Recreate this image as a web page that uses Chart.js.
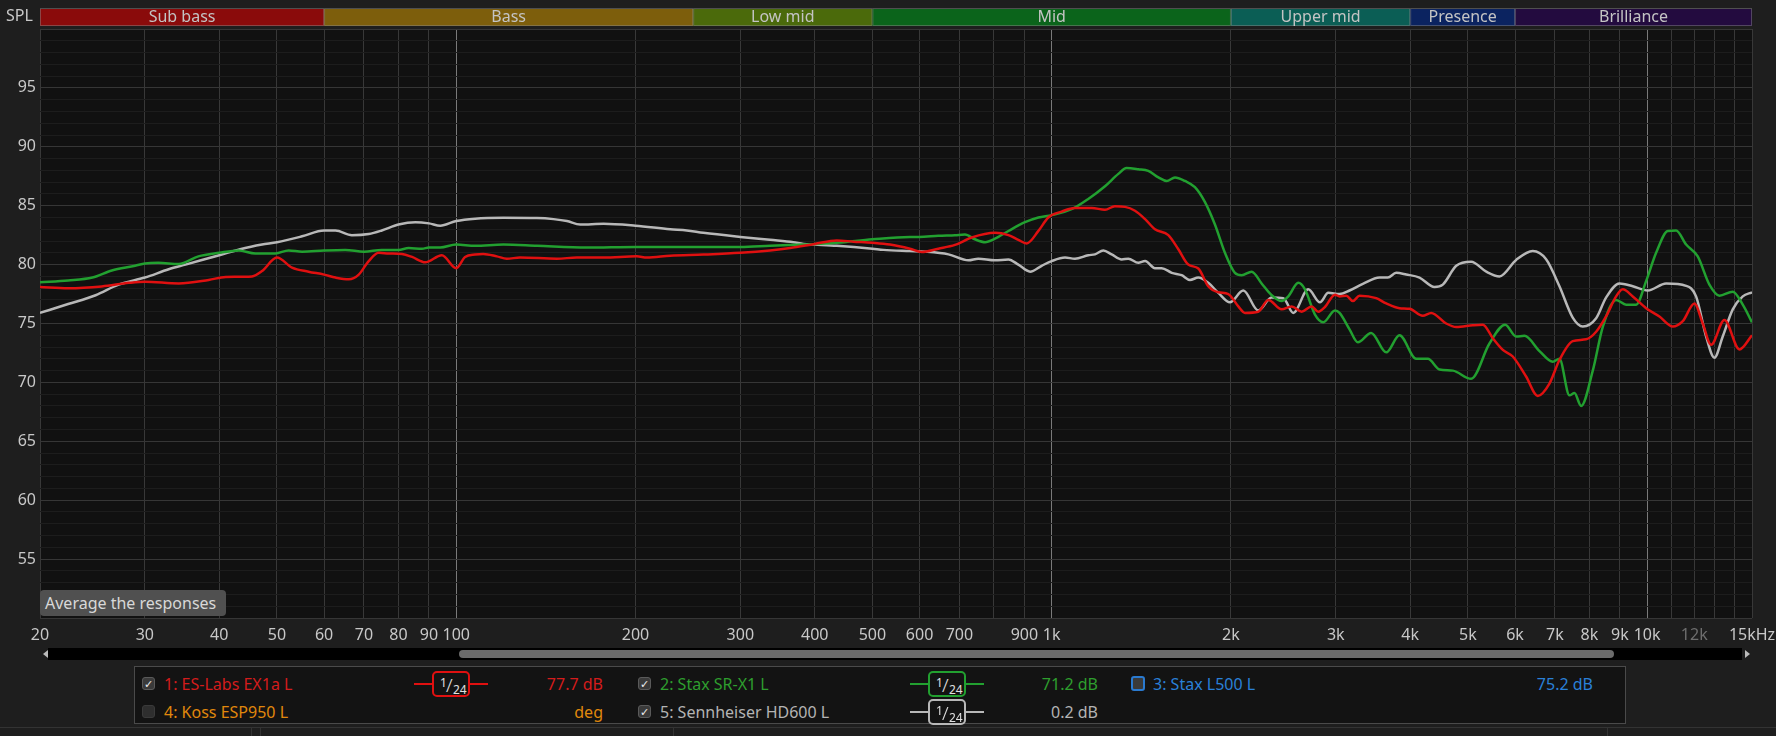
<!DOCTYPE html>
<html>
<head>
<meta charset="utf-8">
<script src="https://cdn.jsdelivr.net/npm/chart.js@4.4.0/dist/chart.umd.min.js"></script>
<style>
  html, body { margin: 0; padding: 0; background: #1e1e1e; }
  #wrap { position: relative; width: 1776px; height: 736px; overflow: hidden; font-family: 'Noto Sans', sans-serif; color: #c8c8c8; }
  #chart { position: absolute; left: 0; top: 0; }
  .abs { position: absolute; white-space: nowrap; }
  #spl { left: 6px; top: 4px; font-size: 16px; }
  #avg { left: 40px; top: 590px; width: 186px; height: 26px; background: #505050; border-radius: 4px; font-size: 16px; line-height: 26px; color: #d8d8d8; box-sizing: border-box; padding-left: 5px; }
  #track { left: 48px; top: 648px; width: 1694px; height: 12px; background: #000; }
  #thumb { left: 459px; top: 650px; width: 1155px; height: 8px; background: #6b6b6b; border-radius: 4px; }
  .arrow { width: 0; height: 0; border-top: 4px solid transparent; border-bottom: 4px solid transparent; top: 650px; }
  #legend { left: 134px; top: 666px; width: 1492px; height: 58px; border: 1px solid #4a4a4a; background: #131313; box-sizing: border-box; }
  .txt { font-size: 16px; line-height: 20px; }
  .box { width: 13px; height: 13px; border-radius: 3px; background: #3a3a3a; border: 1px solid #5a5a5a; box-sizing: border-box; color: #eee; font-size: 11px; line-height: 12px; text-align: center; }
  .sym { width: 74px; height: 26px; }
  .sym .ln { position: absolute; left: 0; right: 0; top: 12px; height: 2px; }
  .sym .bx { position: absolute; left: 18px; top: 0; width: 38px; height: 26px; box-sizing: border-box; border: 2px solid; border-radius: 5px; background: #131313; color: #e0e0e0; font-size: 12px; }
  .sym .n1 { position: absolute; left: 6px; top: 1px; font-size: 12px; }
  .sym .sl { position: absolute; left: 12px; top: -1px; font-size: 19px; font-weight: 300; }
  .sym .n2 { position: absolute; left: 19px; top: 8px; font-size: 12px; }
  #status { left: 0; top: 727px; width: 1776px; height: 1px; background: #333; }
  .sep { top: 727px; width: 1px; height: 9px; background: #333; }
</style>
</head>
<body>
<div id="wrap">
  <canvas id="chart" width="1776" height="736"></canvas>
  <div id="spl" class="abs">SPL</div>
  <div id="avg" class="abs">Average the responses</div>
  <div id="track" class="abs"></div>
  <div id="thumb" class="abs"></div>
  <div class="abs arrow" style="left:43px;border-right:5px solid #bbb;"></div>
  <div class="abs arrow" style="left:1745px;border-left:5px solid #bbb;"></div>
  <div id="legend" class="abs"></div>
  <div id="status" class="abs"></div>
  <div class="abs sep" style="left:251px"></div>
  <div class="abs sep" style="left:260px"></div>
  <div class="abs sep" style="left:673px"></div>
  <div class="abs sep" style="left:1607px"></div>
</div>
<script>
// frequency bands across the top
var bandNames = ['Sub bass', 'Bass', 'Low mid', 'Mid', 'Upper mid', 'Presence', 'Brilliance'];
var bandEdges = [20, 60, 250, 500, 2000, 4000, 6000, 20000];
var bandColors = ['#8a0b0b', '#7d5e0c', '#4b6a0b', '#0b641b', '#0b5e55', '#0b2360', '#230b3f'];

// x axis ticks
var xTickValues = [20, 30, 40, 50, 60, 70, 80, 90, 100, 200, 300, 400, 500, 600, 700, 800, 900,
    1000, 2000, 3000, 4000, 5000, 6000, 7000, 8000, 9000, 10000, 11000, 12000, 13000, 14000, 15000];
var xTickLabels = ['20', '30', '40', '50', '60', '70', '80', '90', '100', '200', '300', '400', '500', '600', '700', '', '900',
    '1k', '2k', '3k', '4k', '5k', '6k', '7k', '8k', '9k', '10k', '', '12k', '', '', '15kHz'];

// 1: ES-Labs EX1a L
var redFreq = [20, 22.3, 25.4, 28.2, 30, 34.2, 38.4, 41, 45.4, 47.2, 50, 53, 56.5, 60, 62.7, 66, 68.6, 71.3, 74.1, 77,
    81.1, 84.3, 88.7, 94.6, 100, 103.5, 107.6, 111, 117, 121.6, 128, 147.6, 159.4, 176.8, 201, 209, 228.7, 260, 300,
    336.6, 363.7, 400, 435.6, 464.5, 500, 535, 578, 605, 645, 688, 734, 803, 846, 879, 908, 950, 987, 1039, 1094,
    1168, 1229, 1277, 1328, 1380, 1435, 1491, 1570, 1632, 1696, 1763, 1832, 1905, 1980, 2058, 2112, 2223, 2311,
    2433, 2529, 2629, 2732, 2804, 2877, 2991, 3044, 3124, 3205, 3288, 3507, 3646, 3838, 3990, 4199, 4338, 4597,
    4780, 5096, 5297, 5506, 5723, 5948, 6262, 6552, 6854, 7124, 7499, 7898, 8210, 8531, 8869, 9100, 9459, 9960,
    10486, 11042, 11478, 12006, 12399, 12805, 13482, 14290, 15000];
var redDb = [78.1, 78.0, 78.15, 78.45, 78.55, 78.4, 78.7, 78.95, 79.0, 79.45, 80.6, 79.75, 79.4, 79.15, 78.9, 78.75, 79.15, 80.3, 81.0, 80.95,
    80.9, 80.65, 80.2, 80.8, 79.7, 80.65, 80.85, 80.9, 80.7, 80.5, 80.6, 80.5, 80.6, 80.6, 80.7, 80.6, 80.75, 80.85, 81.0,
    81.2, 81.4, 81.75, 82.05, 81.95, 81.85, 81.7, 81.35, 81.07, 81.35, 81.67, 82.3, 82.7, 82.5, 82.1, 81.8, 82.86, 84.0, 84.5, 84.8,
    84.8, 84.66, 84.95, 84.9, 84.57, 83.86, 83.0, 82.5, 81.3, 80.0, 79.67, 78.16, 77.65, 77.5, 76.45, 75.9, 76.0, 77.0,
    76.2, 76.45, 76.0, 76.45, 76.0, 76.4, 77.45, 77.3, 77.36, 76.9, 77.36, 77.15, 76.7, 76.3, 76.25, 75.65, 75.9, 75.0,
    74.7, 74.85, 74.9, 73.75, 72.76, 72.2, 70.5, 68.85, 69.9, 71.9, 73.5, 73.66, 74.3, 75.6, 77.3, 77.9, 77.3, 76.3,
    75.6, 74.74, 75.2, 76.7, 75.0, 73.2, 75.3, 72.8, 74.0];

// 2: Stax SR-X1 L
var greenFreq = [20, 22.3, 24.5, 26.4, 28.9, 30, 31.6, 34.2, 36.9, 40, 43.1, 46, 49.7, 52.3, 55.1, 60, 65.1, 70, 75, 80,
    83.2, 87.6, 90, 94, 100, 107.6, 120, 136.6, 165.7, 200, 300, 336.6, 383, 435.6, 500, 578, 599, 645, 688, 715, 743,
    773, 803, 846, 902, 950, 1000, 1080, 1152, 1229, 1294, 1336, 1398, 1453, 1511, 1560, 1611, 1674, 1740, 1809, 1880,
    1954, 2031, 2085, 2167, 2252, 2341, 2433, 2497, 2595, 2663, 2768, 2858, 2991, 3044, 3164, 3267, 3440, 3646, 3838,
    4094, 4283, 4481, 4717, 5063, 5435, 5774, 6026, 6222, 6595, 6943, 7124, 7405, 7550, 7747, 8104, 8422, 8869, 9219,
    9582, 9960, 10353, 10832, 11186, 11627, 12161, 12722, 13224, 13924, 14473, 15000];
var greenDb = [78.5, 78.65, 78.9, 79.5, 79.9, 80.1, 80.15, 80.05, 80.7, 81.0, 81.2, 80.95, 80.95, 81.2, 81.1, 81.2, 81.25, 81.1, 81.25, 81.25,
    81.4, 81.35, 81.45, 81.45, 81.7, 81.6, 81.7, 81.6, 81.45, 81.5, 81.5, 81.6, 81.7, 81.85, 82.15, 82.35, 82.35, 82.45, 82.5, 82.55, 82.15,
    81.9, 82.2, 82.85, 83.6, 84.0, 84.2, 84.7, 85.57, 86.65, 87.7, 88.2, 88.1, 87.96, 87.4, 87.1, 87.4, 87.1, 86.57, 85.3, 83.4,
    81.0, 79.3, 79.1, 79.4, 78.4, 77.4, 76.9, 77.3, 78.45, 77.9, 75.75, 75.1, 76.1, 75.9, 74.5, 73.4, 74.2, 72.55, 74.0,
    72.0, 72.0, 71.1, 71.0, 70.3, 73.3, 74.9, 73.9, 73.95, 72.66, 71.75, 72.0, 68.9, 69.1, 68.0, 71.0, 74.7, 77.0, 76.6,
    76.6, 78.6, 81.0, 82.86, 82.9, 81.7, 80.7, 78.3, 77.36, 77.7, 76.6, 75.1];

// 5: Sennheiser HD600 L
var greyFreq = [20, 22.3, 24.8, 27.1, 30, 32.9, 35.1, 40, 43.7, 47.2, 50, 55.1, 60, 62.7, 66.8, 71.3, 75, 80, 85.4, 90,
    94, 100, 107.6, 120, 136.6, 145.7, 153.4, 161.5, 176.8, 200, 228.7, 243.9, 260, 300, 336.6, 368.4, 383, 400, 435.6,
    500, 521.7, 578, 613, 671, 725, 753, 803, 846, 879, 920, 962, 1000, 1053, 1094, 1152, 1182, 1221, 1261, 1311, 1345,
    1398, 1435, 1491, 1530, 1591, 1653, 1707, 1763, 1832, 1905, 1992, 2098, 2223, 2341, 2449, 2545, 2697, 2822, 2914,
    3044, 3164, 3331, 3553, 3669, 3789, 3939, 4147, 4394, 4538, 4780, 5063, 5368, 5650, 6026, 6426, 6766, 7124, 7499,
    7797, 8210, 8531, 8984, 9459, 10024, 10762, 11627, 12083, 12560, 12971, 13395, 13924, 14473, 15000];
var greyDb = [75.9, 76.65, 77.4, 78.3, 78.9, 79.6, 80.0, 80.8, 81.35, 81.7, 81.9, 82.4, 82.9, 82.9, 82.5, 82.6, 82.9, 83.4, 83.6, 83.5,
    83.3, 83.7, 83.9, 83.97, 83.95, 83.86, 83.7, 83.4, 83.46, 83.3, 83.0, 82.9, 82.7, 82.35, 82.1, 81.9, 81.75, 81.7, 81.6,
    81.35, 81.25, 81.15, 81.1, 80.87, 80.36, 80.5, 80.36, 80.44, 80.0, 79.4, 79.9, 80.3, 80.6, 80.5, 80.8, 80.87, 81.2, 80.87, 80.44, 80.5,
    80.15, 80.3, 79.7, 79.7, 79.3, 79.1, 78.7, 78.9, 78.45, 77.6, 76.8, 77.8, 76.1, 77.2, 77.15, 75.9, 77.9, 76.8, 77.6,
    77.5, 77.8, 78.36, 78.9, 78.9, 79.3, 79.16, 78.9, 78.1, 78.3, 79.9, 80.24, 79.4, 79.0, 80.4, 81.15, 80.45, 78.16, 75.5,
    74.74, 75.45, 77.2, 78.4, 78.16, 77.8, 78.4, 78.2, 77.3, 73.9, 72.1, 73.9, 76.2, 77.3, 77.65];

// legend entries
var legendNames = ['1: ES-Labs EX1a L', '2: Stax SR-X1 L', '3: Stax L500 L', '4: Koss ESP950 L', '5: Sennheiser HD600 L'];
var legendValues = ['77.7 dB', '71.2 dB', '75.2 dB', 'deg', '0.2 dB'];
var legendColors = ['#d41c1c', '#2e9e2e', '#2a80d8', '#e0880c', '#b4b4b4'];

function points(freq, db) {
    var ret = [];
    for (var i = 0; i < freq.length; i++) {
        ret.push({x: freq[i], y: db[i]});
    }
    return ret;
}

function buildLegend() {
    var wrap = document.getElementById('wrap');
    // [x of checkbox, y center, x of value right edge, symbol x or null, checkbox style]
    var spots = [
        [142, 684, 603, 414, 'on'],
        [638, 684, 1098, 910, 'on'],
        [1131, 684, 1593, null, 'blue'],
        [142, 712, 603, null, 'off'],
        [638, 712, 1098, 910, 'on']
    ];
    var symColors = ['#e01010', '#22a030', null, null, '#b8b8b8'];
    for (var i = 0; i < spots.length; i++) {
        var s = spots[i];
        var box = document.createElement('div');
        box.className = 'abs box';
        box.style.left = s[0] + 'px';
        box.style.top = (s[1] - 7) + 'px';
        if (s[4] === 'on') box.textContent = '\u2713';
        if (s[4] === 'off') { box.style.background = '#2e2e2e'; box.style.borderColor = '#3a3a3a'; }
        if (s[4] === 'blue') { box.style.border = '2px solid #2a7ad0'; box.style.width = '14px'; box.style.height = '15px'; box.style.top = (s[1] - 8) + 'px'; }
        wrap.appendChild(box);

        var name = document.createElement('div');
        name.className = 'abs txt';
        name.style.left = (s[0] + 22) + 'px';
        name.style.top = (s[1] - 10) + 'px';
        name.style.color = legendColors[i];
        name.textContent = legendNames[i];
        wrap.appendChild(name);

        var val = document.createElement('div');
        val.className = 'abs txt';
        val.style.right = (1776 - s[2]) + 'px';
        val.style.top = (s[1] - 10) + 'px';
        val.style.color = legendColors[i];
        val.textContent = legendValues[i];
        wrap.appendChild(val);

        if (s[3] !== null) {
            var sym = document.createElement('div');
            sym.className = 'abs sym';
            sym.style.left = s[3] + 'px';
            sym.style.top = (s[1] - 13) + 'px';
            sym.innerHTML = '<div class="ln" style="background:' + symColors[i] + '"></div>' +
                '<div class="bx" style="border-color:' + symColors[i] + '"><span class="n1">1</span><span class="sl">/</span><span class="n2">24</span></div>';
            wrap.appendChild(sym);
        }
    }
}

var decor = {
    id: 'decor',
    beforeDraw: function (chart) {
        var ctx = chart.ctx;
        var a = chart.chartArea;
        var xs = chart.scales.x;
        ctx.save();
        ctx.fillStyle = '#111111';
        ctx.fillRect(a.left, a.top, a.right - a.left, a.bottom - a.top);
        ctx.font = '16px "Noto Sans"';
        ctx.textAlign = 'center';
        ctx.textBaseline = 'middle';
        for (var i = 0; i < bandNames.length; i++) {
            var x0 = xs.getPixelForValue(Math.max(bandEdges[i], xs.min));
            var x1 = xs.getPixelForValue(Math.min(bandEdges[i + 1], xs.max));
            ctx.fillStyle = bandColors[i];
            ctx.fillRect(x0, 9, x1 - x0, 17);
            ctx.strokeStyle = 'rgba(140,140,140,0.45)';
            ctx.lineWidth = 1;
            ctx.strokeRect(x0 + 0.5, 8.5, x1 - x0 - 1, 17);
            ctx.fillStyle = '#c4c4c4';
            ctx.fillText(bandNames[i], (x0 + x1) / 2, 17.5);
        }
        ctx.restore();
    }
};

Chart.defaults.font.family = "'Noto Sans', sans-serif";

var ctx = document.getElementById('chart').getContext('2d');
var myChart = new Chart(ctx, {
    type: 'line',
    data: {
        datasets: [
            {label: legendNames[0], data: points(redFreq, redDb), borderColor: '#e01010'},
            {label: legendNames[1], data: points(greenFreq, greenDb), borderColor: '#22a030'},
            {label: legendNames[4], data: points(greyFreq, greyDb), borderColor: '#b8b8b8'}
        ]
    },
    options: {
        responsive: false,
        animation: false,
        devicePixelRatio: 1,
        layout: {padding: {top: 29, right: 24, left: 0, bottom: 0}},
        elements: {
            point: {radius: 0},
            line: {borderWidth: 2.5, cubicInterpolationMode: 'monotone'}
        },
        plugins: {legend: {display: false}, tooltip: {enabled: false}},
        scales: {
            x: {
                type: 'logarithmic',
                min: 20,
                max: 15000,
                afterBuildTicks: function (scale) {
                    scale.ticks = xTickValues.map(function (v) { return {value: v}; });
                },
                afterFit: function (scale) {
                    scale.height = 118;
                    // let the edge labels overhang instead of shrinking the plot
                    scale.paddingLeft = 0;
                    scale.paddingRight = 0;
                },
                border: {display: false},
                grid: {
                    drawTicks: false,
                    color: function (c) {
                        var v = c.tick ? c.tick.value : 0;
                        return (v === 100 || v === 1000 || v === 10000) ? '#7a7a7a' : '#383838';
                    }
                },
                ticks: {
                    autoSkip: false,
                    maxRotation: 0,
                    minRotation: 0,
                    padding: 8,
                    font: {size: 16},
                    color: function (c) {
                        return (c.tick && c.tick.value === 12000) ? '#6e6e6e' : '#c8c8c8';
                    },
                    callback: function (value, index) { return xTickLabels[index]; }
                }
            },
            y: {
                min: 50,
                max: 100,
                afterFit: function (scale) { scale.width = 40; },
                border: {display: false},
                grid: {
                    drawTicks: false,
                    color: function (c) {
                        var v = c.tick ? c.tick.value : 0;
                        return v % 5 === 0 ? '#363636' : '#1d1d1d';
                    }
                },
                ticks: {
                    stepSize: 1,
                    autoSkip: false,
                    padding: 4,
                    font: {size: 16},
                    color: '#c8c8c8',
                    callback: function (v) { return (v % 5 === 0 && v > 50 && v < 100) ? String(v) : ''; }
                }
            }
        }
    },
    plugins: [decor]
});

buildLegend();
</script>
</body>
</html>
